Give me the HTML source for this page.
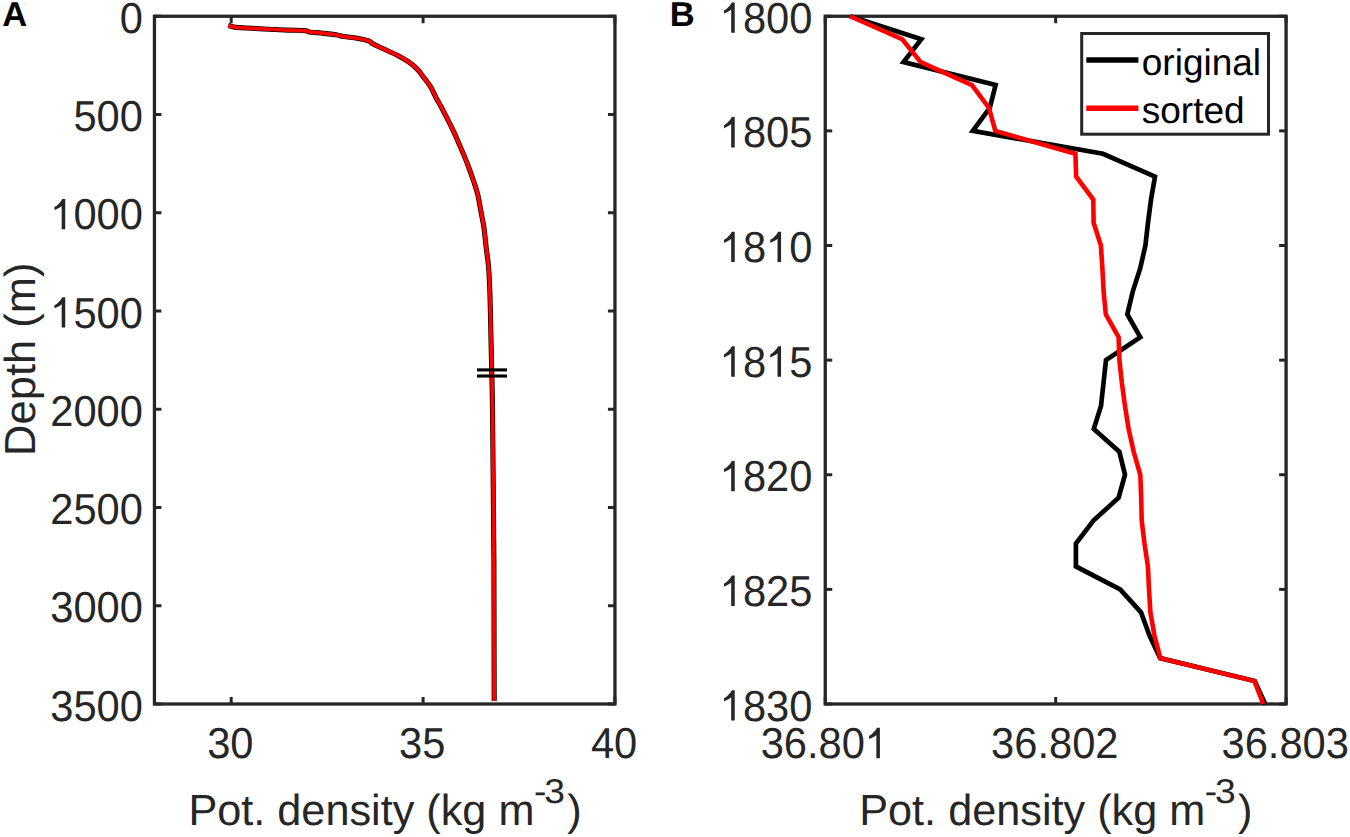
<!DOCTYPE html><html><head><meta charset="utf-8"><style>
html,body{margin:0;padding:0;background:#fff;width:1350px;height:837px;overflow:hidden}
svg{display:block}text{font-family:"Liberation Sans",sans-serif;text-rendering:geometricPrecision}
</style></head><body>
<svg width="1350" height="837" viewBox="0 0 1350 837">
<rect width="1350" height="837" fill="#fff"/>
<g stroke="#262626" fill="none">
<line x1="231.2" y1="16.25" x2="231.2" y2="23.25" stroke-width="3.0"/>
<line x1="231.2" y1="704" x2="231.2" y2="697" stroke-width="3.0"/>
<line x1="423.08" y1="16.25" x2="423.08" y2="23.25" stroke-width="3.0"/>
<line x1="423.08" y1="704" x2="423.08" y2="697" stroke-width="3.0"/>
<line x1="614.95" y1="16.25" x2="614.95" y2="23.25" stroke-width="3.0"/>
<line x1="614.95" y1="704" x2="614.95" y2="697" stroke-width="3.0"/>
<line x1="154.45" y1="16.25" x2="161.45" y2="16.25" stroke-width="3.0"/>
<line x1="614.95" y1="16.25" x2="607.95" y2="16.25" stroke-width="3.0"/>
<line x1="154.45" y1="114.5" x2="161.45" y2="114.5" stroke-width="3.0"/>
<line x1="614.95" y1="114.5" x2="607.95" y2="114.5" stroke-width="3.0"/>
<line x1="154.45" y1="212.75" x2="161.45" y2="212.75" stroke-width="3.0"/>
<line x1="614.95" y1="212.75" x2="607.95" y2="212.75" stroke-width="3.0"/>
<line x1="154.45" y1="311" x2="161.45" y2="311" stroke-width="3.0"/>
<line x1="614.95" y1="311" x2="607.95" y2="311" stroke-width="3.0"/>
<line x1="154.45" y1="409.25" x2="161.45" y2="409.25" stroke-width="3.0"/>
<line x1="614.95" y1="409.25" x2="607.95" y2="409.25" stroke-width="3.0"/>
<line x1="154.45" y1="507.5" x2="161.45" y2="507.5" stroke-width="3.0"/>
<line x1="614.95" y1="507.5" x2="607.95" y2="507.5" stroke-width="3.0"/>
<line x1="154.45" y1="605.75" x2="161.45" y2="605.75" stroke-width="3.0"/>
<line x1="614.95" y1="605.75" x2="607.95" y2="605.75" stroke-width="3.0"/>
<line x1="154.45" y1="704" x2="161.45" y2="704" stroke-width="3.0"/>
<line x1="614.95" y1="704" x2="607.95" y2="704" stroke-width="3.0"/>
<rect x="154.45" y="16.25" width="460.5" height="687.75" stroke-width="3.3"/>
</g>
<g stroke="#262626" fill="none">
<line x1="825.25" y1="16.25" x2="825.25" y2="23.25" stroke-width="3.0"/>
<line x1="825.25" y1="704" x2="825.25" y2="697" stroke-width="3.0"/>
<line x1="1055.67" y1="16.25" x2="1055.67" y2="23.25" stroke-width="3.0"/>
<line x1="1055.67" y1="704" x2="1055.67" y2="697" stroke-width="3.0"/>
<line x1="1286.1" y1="16.25" x2="1286.1" y2="23.25" stroke-width="3.0"/>
<line x1="1286.1" y1="704" x2="1286.1" y2="697" stroke-width="3.0"/>
<line x1="825.25" y1="16.25" x2="832.25" y2="16.25" stroke-width="3.0"/>
<line x1="1286.1" y1="16.25" x2="1279.1" y2="16.25" stroke-width="3.0"/>
<line x1="825.25" y1="130.88" x2="832.25" y2="130.88" stroke-width="3.0"/>
<line x1="1286.1" y1="130.88" x2="1279.1" y2="130.88" stroke-width="3.0"/>
<line x1="825.25" y1="245.5" x2="832.25" y2="245.5" stroke-width="3.0"/>
<line x1="1286.1" y1="245.5" x2="1279.1" y2="245.5" stroke-width="3.0"/>
<line x1="825.25" y1="360.12" x2="832.25" y2="360.12" stroke-width="3.0"/>
<line x1="1286.1" y1="360.12" x2="1279.1" y2="360.12" stroke-width="3.0"/>
<line x1="825.25" y1="474.75" x2="832.25" y2="474.75" stroke-width="3.0"/>
<line x1="1286.1" y1="474.75" x2="1279.1" y2="474.75" stroke-width="3.0"/>
<line x1="825.25" y1="589.38" x2="832.25" y2="589.38" stroke-width="3.0"/>
<line x1="1286.1" y1="589.38" x2="1279.1" y2="589.38" stroke-width="3.0"/>
<line x1="825.25" y1="704" x2="832.25" y2="704" stroke-width="3.0"/>
<line x1="1286.1" y1="704" x2="1279.1" y2="704" stroke-width="3.0"/>
<rect x="825.25" y="16.25" width="460.85" height="687.75" stroke-width="3.3"/>
</g>
<g fill="none" stroke-linejoin="round">
<path d="M228.3 25.6L235.7 27.4C238.37 27.55 246.08 28 251.7 28.3C257.32 28.6 263.48 28.9 269.4 29.2C275.32 29.5 281.27 29.87 287.2 30.1C293.13 30.33 301.3 30.3 305 30.6C308.7 30.9 306.43 31.47 309.4 31.9C312.37 32.33 318.35 32.72 322.8 33.2C327.25 33.68 332.58 34.23 336.1 34.8C339.62 35.37 340.38 36.02 343.9 36.6C347.42 37.18 353.05 37.57 357.2 38.3C361.35 39.03 366.13 40.03 368.8 41C371.47 41.97 370.68 42.77 373.2 44.1C375.72 45.43 379.9 47.15 383.9 49C387.9 50.85 393.2 53.13 397.2 55.2C401.2 57.27 404.63 59.17 407.9 61.4C411.17 63.63 414.18 65.97 416.8 68.6C419.42 71.23 421.27 74.1 423.6 77.2C425.93 80.3 428.77 83.87 430.8 87.2C432.83 90.53 433.9 93.62 435.8 97.2C437.7 100.78 440.17 104.87 442.2 108.7C444.23 112.53 446.08 116.38 448 120.2C449.92 124.02 451.92 127.78 453.7 131.6C455.48 135.42 457.03 139.27 458.7 143.1C460.37 146.93 462.02 150.53 463.7 154.6C465.38 158.67 467.12 162.97 468.8 167.5C470.48 172.03 472.32 177.32 473.8 181.8C475.28 186.28 476.45 189.12 477.7 194.4C478.95 199.68 480.25 207.93 481.3 213.5C482.35 219.07 483.2 222.22 484 227.8C484.8 233.38 485.35 240.62 486.1 247C486.85 253.38 487.9 259.32 488.5 266.1C489.1 272.88 489.38 280.12 489.7 287.7C490.02 295.28 490.2 303.63 490.4 311.6C490.6 319.57 490.68 325.77 490.9 335.5C491.12 345.23 491.43 357.58 491.7 370C491.97 382.42 492.13 378.33 492.5 410C492.87 441.67 493.67 535 493.9 560L494.2 701" stroke="#000" stroke-width="5.1"/>
<path d="M228.3 25.6L235.7 27.4C238.37 27.55 246.08 28 251.7 28.3C257.32 28.6 263.48 28.9 269.4 29.2C275.32 29.5 281.27 29.87 287.2 30.1C293.13 30.33 301.3 30.3 305 30.6C308.7 30.9 306.43 31.47 309.4 31.9C312.37 32.33 318.35 32.72 322.8 33.2C327.25 33.68 332.58 34.23 336.1 34.8C339.62 35.37 340.38 36.02 343.9 36.6C347.42 37.18 353.05 37.57 357.2 38.3C361.35 39.03 366.13 40.03 368.8 41C371.47 41.97 370.68 42.77 373.2 44.1C375.72 45.43 379.9 47.15 383.9 49C387.9 50.85 393.2 53.13 397.2 55.2C401.2 57.27 404.63 59.17 407.9 61.4C411.17 63.63 414.18 65.97 416.8 68.6C419.42 71.23 421.27 74.1 423.6 77.2C425.93 80.3 428.77 83.87 430.8 87.2C432.83 90.53 433.9 93.62 435.8 97.2C437.7 100.78 440.17 104.87 442.2 108.7C444.23 112.53 446.08 116.38 448 120.2C449.92 124.02 451.92 127.78 453.7 131.6C455.48 135.42 457.03 139.27 458.7 143.1C460.37 146.93 462.02 150.53 463.7 154.6C465.38 158.67 467.12 162.97 468.8 167.5C470.48 172.03 472.32 177.32 473.8 181.8C475.28 186.28 476.45 189.12 477.7 194.4C478.95 199.68 480.25 207.93 481.3 213.5C482.35 219.07 483.2 222.22 484 227.8C484.8 233.38 485.35 240.62 486.1 247C486.85 253.38 487.9 259.32 488.5 266.1C489.1 272.88 489.38 280.12 489.7 287.7C490.02 295.28 490.2 303.63 490.4 311.6C490.6 319.57 490.68 325.77 490.9 335.5C491.12 345.23 491.43 357.58 491.7 370C491.97 382.42 492.13 378.33 492.5 410C492.87 441.67 493.67 535 493.9 560L494.2 701" stroke="#ff0000" stroke-width="3.7"/>
</g>
<g stroke="#000" stroke-width="3.1">
<line x1="477" y1="369.9" x2="507" y2="369.9"/><line x1="477" y1="376" x2="507" y2="376"/>
</g>
<g fill="none" stroke-linejoin="miter" stroke-miterlimit="10">
<polyline points="850.2,16.25 921.3,39.17 903.5,62.1 995.6,85.03 989.8,107.95 972.8,130.88 1103,153.8 1155,176.72 1151,199.65 1148,222.58 1145.4,245.5 1140.2,268.43 1132.8,291.35 1127.3,314.28 1140.3,337.2 1106,360.12 1103.5,383.05 1101,405.98 1093.8,428.9 1119.4,451.82 1125,474.75 1118.6,497.68 1093.5,520.6 1075.9,543.52 1075.9,566.45 1120.2,589.38 1141,612.3 1149.4,635.23 1160.2,658.15 1254.7,681.08 1265.2,704" stroke="#000" stroke-width="4.7"/>
<polyline points="850.1,16.25 902.1,39.17 920.7,62.1 972,85.03 989,107.95 995.3,130.88 1075.4,153.8 1076.2,176.72 1093.3,199.65 1093.6,222.58 1100.9,245.5 1102.4,268.43 1103.6,291.35 1105.8,314.28 1118.6,337.2 1119.4,360.12 1121.9,383.05 1125,405.98 1128.6,428.9 1133.7,451.82 1140.3,474.75 1141.2,497.68 1141.7,520.6 1144.5,543.52 1147.9,566.45 1149,589.38 1150.4,612.3 1154.4,635.23 1160.3,658.15 1254.5,681.08 1263.2,704" stroke="#ff0000" stroke-width="4.6"/>
</g>
<g fill="#262626" font-size="43.3">
<text transform="translate(119.73,32.85) scale(0.962,1)">0</text>
<text transform="translate(73.4,131.1) scale(0.962,1)">500</text>
<text transform="translate(50.24,229.35) scale(0.962,1)"> 000</text>
<path transform="translate(50.24,229.35) scale(41.65,-43.3)" d="M0.36 0L0.36 0.703L0.29 0.703C0.255 0.640 0.19 0.560 0.101 0.515L0.101 0.445C0.165 0.470 0.235 0.505 0.275 0.540L0.275 0Z"/>
<text transform="translate(50.24,327.6) scale(0.962,1)"> 500</text>
<path transform="translate(50.24,327.6) scale(41.65,-43.3)" d="M0.36 0L0.36 0.703L0.29 0.703C0.255 0.640 0.19 0.560 0.101 0.515L0.101 0.445C0.165 0.470 0.235 0.505 0.275 0.540L0.275 0Z"/>
<text transform="translate(50.24,425.85) scale(0.962,1)">2000</text>
<text transform="translate(50.24,524.1) scale(0.962,1)">2500</text>
<text transform="translate(50.24,622.35) scale(0.962,1)">3000</text>
<text transform="translate(50.24,720.6) scale(0.962,1)">3500</text>
<text transform="translate(719.74,32.85) scale(0.962,1)"> 800</text>
<path transform="translate(719.74,32.85) scale(41.65,-43.3)" d="M0.36 0L0.36 0.703L0.29 0.703C0.255 0.640 0.19 0.560 0.101 0.515L0.101 0.445C0.165 0.470 0.235 0.505 0.275 0.540L0.275 0Z"/>
<text transform="translate(719.74,147.47) scale(0.962,1)"> 805</text>
<path transform="translate(719.74,147.47) scale(41.65,-43.3)" d="M0.36 0L0.36 0.703L0.29 0.703C0.255 0.640 0.19 0.560 0.101 0.515L0.101 0.445C0.165 0.470 0.235 0.505 0.275 0.540L0.275 0Z"/>
<text transform="translate(719.74,262.1) scale(0.962,1)"> 8 0</text>
<path transform="translate(719.74,262.1) scale(41.65,-43.3)" d="M0.36 0L0.36 0.703L0.29 0.703C0.255 0.640 0.19 0.560 0.101 0.515L0.101 0.445C0.165 0.470 0.235 0.505 0.275 0.540L0.275 0Z"/>
<path transform="translate(766.07,262.1) scale(41.65,-43.3)" d="M0.36 0L0.36 0.703L0.29 0.703C0.255 0.640 0.19 0.560 0.101 0.515L0.101 0.445C0.165 0.470 0.235 0.505 0.275 0.540L0.275 0Z"/>
<text transform="translate(719.74,376.73) scale(0.962,1)"> 8 5</text>
<path transform="translate(719.74,376.73) scale(41.65,-43.3)" d="M0.36 0L0.36 0.703L0.29 0.703C0.255 0.640 0.19 0.560 0.101 0.515L0.101 0.445C0.165 0.470 0.235 0.505 0.275 0.540L0.275 0Z"/>
<path transform="translate(766.07,376.73) scale(41.65,-43.3)" d="M0.36 0L0.36 0.703L0.29 0.703C0.255 0.640 0.19 0.560 0.101 0.515L0.101 0.445C0.165 0.470 0.235 0.505 0.275 0.540L0.275 0Z"/>
<text transform="translate(719.74,491.35) scale(0.962,1)"> 820</text>
<path transform="translate(719.74,491.35) scale(41.65,-43.3)" d="M0.36 0L0.36 0.703L0.29 0.703C0.255 0.640 0.19 0.560 0.101 0.515L0.101 0.445C0.165 0.470 0.235 0.505 0.275 0.540L0.275 0Z"/>
<text transform="translate(719.74,605.98) scale(0.962,1)"> 825</text>
<path transform="translate(719.74,605.98) scale(41.65,-43.3)" d="M0.36 0L0.36 0.703L0.29 0.703C0.255 0.640 0.19 0.560 0.101 0.515L0.101 0.445C0.165 0.470 0.235 0.505 0.275 0.540L0.275 0Z"/>
<text transform="translate(719.74,720.6) scale(0.962,1)"> 830</text>
<path transform="translate(719.74,720.6) scale(41.65,-43.3)" d="M0.36 0L0.36 0.703L0.29 0.703C0.255 0.640 0.19 0.560 0.101 0.515L0.101 0.445C0.165 0.470 0.235 0.505 0.275 0.540L0.275 0Z"/>
<text transform="translate(207.13,758.3) scale(0.962,1)">30</text>
<text transform="translate(399.01,758.3) scale(0.962,1)">35</text>
<text transform="translate(590.88,758.3) scale(0.962,1)">40</text>
<text transform="translate(760.65,758.3) scale(0.962,1)">36.80 </text>
<path transform="translate(864.89,758.3) scale(41.65,-43.3)" d="M0.36 0L0.36 0.703L0.29 0.703C0.255 0.640 0.19 0.560 0.101 0.515L0.101 0.445C0.165 0.470 0.235 0.505 0.275 0.540L0.275 0Z"/>
<text transform="translate(991.07,758.3) scale(0.962,1)">36.802</text>
<text transform="translate(1221.5,758.3) scale(0.962,1)">36.803</text>
</g>
<g fill="#262626" font-size="43.5">
<text transform="translate(188.4,824.6) scale(0.994,1)">Pot. density (kg m</text>
<text transform="translate(533.9,803.2) scale(1.08,1)" font-size="34.5">-</text>
<text transform="translate(544.2,803.2) scale(1.08,1)" font-size="34.5">3</text>
<text x="567.2" y="824.6">)</text>
<text transform="translate(859.2,824.6) scale(0.994,1)">Pot. density (kg m</text>
<text transform="translate(1204.7,803.2) scale(1.08,1)" font-size="34.5">-</text>
<text transform="translate(1215,803.2) scale(1.08,1)" font-size="34.5">3</text>
<text x="1238" y="824.6">)</text>
<text transform="translate(35.3,359.2) rotate(-90)" text-anchor="middle">Depth (m)</text>
</g>
<g fill="#000" font-size="34.5" font-weight="bold">
<text x="2.2" y="26.3">A</text><text x="669.8" y="26">B</text>
</g>
<rect x="1081.7" y="33.5" width="186.8" height="100.7" fill="#fff" stroke="#262626" stroke-width="3"/>
<line x1="1086.3" y1="60" x2="1138.4" y2="60" stroke="#000" stroke-width="5.6"/>
<line x1="1086.3" y1="108.2" x2="1138.4" y2="108.2" stroke="#ff0000" stroke-width="5.6"/>
<g fill="#000" font-size="37">
<text x="1141.8" y="74.6">original</text><text x="1141.8" y="122.8">sorted</text>
</g>
</svg></body></html>
